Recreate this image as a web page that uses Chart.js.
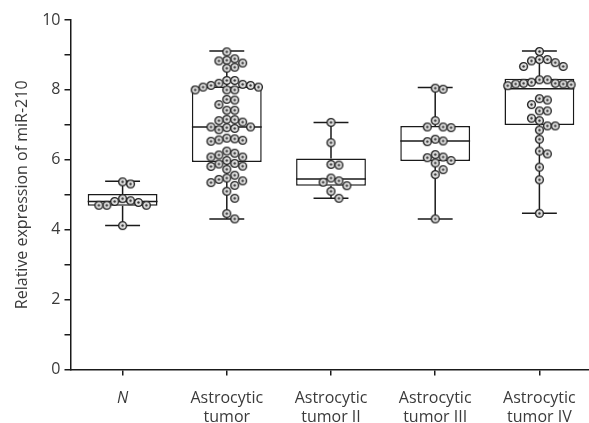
<!DOCTYPE html>
<html><head><meta charset="utf-8">
<script src="https://cdn.jsdelivr.net/npm/chart.js@4"></script>
<style>html,body{margin:0;padding:0;overflow:hidden;background:#fff}#wrap{width:597px;height:443px}</style>
</head><body><div id="wrap"><canvas id="c" width="597" height="443"></canvas></div>
<script>
// ---- data ----
const categories = [['N'], ['Astrocytic', 'tumor'], ['Astrocytic', 'tumor II'], ['Astrocytic', 'tumor III'], ['Astrocytic', 'tumor IV']];
const yTicks = [0, 2, 4, 6, 8, 10];
const yAxisTitle = 'Relative expression of miR-210';

const normalValues = [5.31, 5.37, 4.83, 4.78, 4.70, 4.70, 4.70, 4.81, 4.89, 4.12];
const tumorValues = [9.09, 8.89, 8.83, 8.85, 8.77, 8.65, 8.62, 8.27, 8.27, 8.16, 8.13, 8.08, 8.00, 8.00, 8.00, 8.08, 8.13, 8.19,
  7.71, 7.73, 7.58, 7.42, 7.42, 7.16, 7.12, 7.15, 7.08, 6.94, 6.90, 6.86, 6.92, 6.94, 6.62, 6.57, 6.53, 6.56, 6.60,
  6.19, 6.08, 6.08, 6.14, 6.25, 5.98, 5.88, 5.81, 5.82, 5.90, 5.73, 5.56, 5.48, 5.40, 5.27, 5.35, 5.44, 5.10, 4.90, 4.46, 4.31];
const grade2Values = [7.07, 6.49, 5.85, 5.87, 5.48, 5.36, 5.40, 5.26, 5.10, 4.90];
const grade3Values = [8.05, 8.02, 7.12, 6.94, 6.92, 6.94, 6.54, 6.52, 6.59, 6.15, 6.06, 5.91, 5.98, 6.08, 5.72, 5.58, 4.31];
const grade4Values = [9.10, 8.87, 8.83, 8.78, 8.87, 8.67, 8.67, 8.29, 8.29, 8.19, 8.17, 8.15, 8.12, 8.19, 8.17, 8.22,
  7.71, 7.75, 7.58, 7.40, 7.40, 7.12, 7.19, 6.97, 6.97, 6.85, 6.59, 6.25, 6.17, 5.79, 5.43, 4.47];
const groupValues = [normalValues, tumorValues, grade2Values, grade3Values, grade4Values];

const boxMin    = [4.12, 4.31, 4.90, 4.31, 4.47];
const boxQ1     = [4.69, 5.94, 5.26, 5.97, 7.00];
const boxMedian = [4.81, 6.94, 5.45, 6.54, 8.03];
const boxQ3     = [5.02, 8.10, 6.04, 6.97, 8.32];
const boxMax    = [5.39, 9.11, 7.07, 8.07, 9.11];

// ---- styles ----
const INK = '#1a1a1a';
const TEXT = '#3a3a3a';
const FONT = "'Open Sans', 'Noto Sans', sans-serif";

function makeDot() {
  const c = document.createElement('canvas');
  c.width = 11; c.height = 11;
  const g = c.getContext('2d');
  g.beginPath(); g.arc(5.5, 5.5, 3.9, 0, Math.PI * 2);
  g.fillStyle = '#e2e2e2'; g.fill();
  g.lineWidth = 1.4; g.strokeStyle = '#222'; g.stroke();
  g.beginPath(); g.arc(5.5, 5.5, 1.2, 0, Math.PI * 2);
  g.fillStyle = '#333'; g.fill();
  return c;
}
const dot = makeDot();

const boxPlugin = {
  id: 'boxWhiskers',
  afterDatasetDraw(chart, args) {
    if (args.index !== 0) return;
    const ctx = chart.ctx, y = chart.scales.y;
    const meta = chart.getDatasetMeta(0);
    ctx.save();
    ctx.strokeStyle = INK; ctx.lineWidth = 1.5;
    meta.data.forEach((bar, i) => {
      const cx = bar.x, hw = bar.width / 2, cap = bar.width / 4;
      const ym = y.getPixelForValue(boxMedian[i]);
      const yq1 = y.getPixelForValue(boxQ1[i]), yq3 = y.getPixelForValue(boxQ3[i]);
      const ymin = y.getPixelForValue(boxMin[i]), ymax = y.getPixelForValue(boxMax[i]);
      ctx.beginPath();
      ctx.moveTo(cx - hw, ym); ctx.lineTo(cx + hw, ym);
      ctx.moveTo(cx, yq3); ctx.lineTo(cx, ymax);
      ctx.moveTo(cx - cap, ymax); ctx.lineTo(cx + cap, ymax);
      ctx.moveTo(cx, yq1); ctx.lineTo(cx, ymin);
      ctx.moveTo(cx - cap, ymin); ctx.lineTo(cx + cap, ymin);
      ctx.stroke();
    });
    ctx.restore();
  }
};

const chart = new Chart(document.getElementById('c'), {
  type: 'bar',
  data: {
    labels: categories,
    datasets: [
      {
        type: 'bar',
        data: boxQ1.map((q, i) => [q, boxQ3[i]]),
        backgroundColor: '#ffffff',
        borderColor: INK,
        borderWidth: 1.5,
        borderSkipped: false,
        grouped: false,
        categoryPercentage: 1,
        barPercentage: 0.67,
        order: 1
      },
      {
        type: 'scatter',
        xAxisID: 'x2',
        data: [],
        pointStyle: dot,
        pointRadius: 4.5,
        order: 0
      }
    ]
  },
  options: {
    responsive: false,
    animation: false,
    events: [],
    layout: { padding: { top: 20, right: 0, bottom: 3, left: 13 } },
    plugins: { legend: { display: false }, tooltip: { enabled: false } },
    scales: {
      x: {
        type: 'category',
        offset: true,
        grid: { display: true, drawOnChartArea: false, drawTicks: true, tickLength: 6, offset: false, color: INK, lineWidth: 1.5 },
        border: { display: true, color: INK, width: 1.5 },
        ticks: {
          color: TEXT, padding: 13, maxRotation: 0, autoSkip: false,
          font: (ctx) => ({ family: FONT, size: 16, style: ctx.index === 0 ? 'italic' : 'normal' })
        }
      },
      x2: { type: 'linear', min: -0.5, max: 4.5, offset: false, display: false },
      y: {
        min: 0, max: 10,
        grid: { display: true, drawOnChartArea: false, drawTicks: true, tickLength: 6, color: INK, lineWidth: 1.5 },
        border: { display: true, color: INK, width: 1.5 },
        ticks: {
          stepSize: 1, color: TEXT, padding: 4,
          font: { family: FONT, size: 16 },
          callback: (v) => yTicks.includes(v) ? String(v) : ''
        },
        title: { display: true, text: yAxisTitle, color: TEXT, font: { family: FONT, size: 16 }, padding: { top: 0, bottom: 6 } }
      }
    }
  },
  plugins: [boxPlugin]
});

// beeswarm layout computed from the scales (points may not overlap)
function layoutSwarm() {
  const y = chart.scales.y, x2 = chart.scales.x2;
  const unit = x2.getPixelForValue(1) - x2.getPixelForValue(0);
  const step = 8, minD = 7.8;
  const pts = [];
  groupValues.forEach((vals, gi) => {
    const placed = [];
    const sorted = vals.slice().sort((a, b) => b - a);
    sorted.forEach(v => {
      const py = y.getPixelForValue(v);
      for (let k = 0; k < 40; k++) {
        const m = k === 0 ? 0 : (k % 2 ? Math.ceil(k / 2) : -k / 2);
        const px = m * step;
        if (placed.every(p => Math.hypot(p.px - px, p.py - py) >= minD)) {
          placed.push({ px, py });
          pts.push({ x: gi + px / unit, y: v });
          break;
        }
      }
    });
  });
  chart.data.datasets[1].data = pts;
  chart.update('none');
}
layoutSwarm();
</script>
</body></html>
